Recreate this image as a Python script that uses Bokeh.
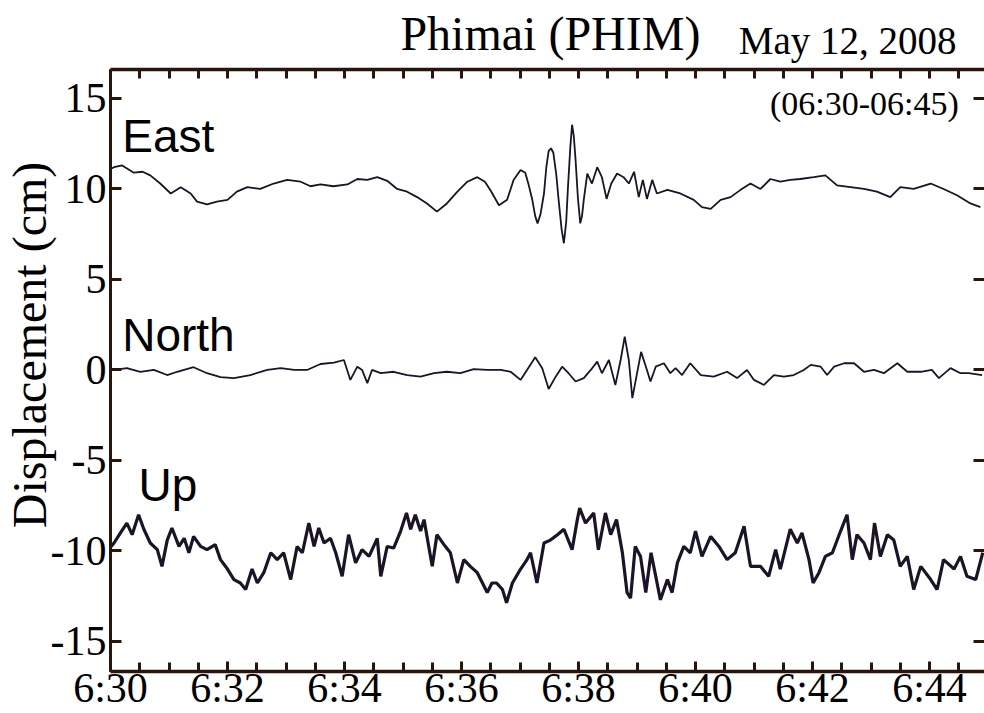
from bokeh.plotting import figure
from bokeh.models import Range1d, LinearAxis, FixedTicker, Label
from bokeh.embed import file_html
from bokeh.resources import INLINE

# ---- data (minutes after 06:30, displacement in cm) ----
east_t = [0.0, 0.06, 0.2, 0.4, 0.55, 0.68, 0.85, 1.03, 1.2, 1.37, 1.48, 1.65, 1.82, 2.0, 2.16, 2.34,
          2.56, 2.79, 3.02, 3.25, 3.42, 3.59, 3.81, 4.05, 4.22, 4.39, 4.56, 4.73, 4.9, 5.07, 5.24,
          5.41, 5.58, 5.75, 5.93, 6.1, 6.27, 6.4, 6.5, 6.64, 6.78, 6.89,
          7.01, 7.09, 7.15, 7.21, 7.26, 7.3, 7.35, 7.41, 7.45, 7.49, 7.53, 7.57, 7.62, 7.66, 7.71,
          7.75, 7.79, 7.82, 7.86, 7.89, 7.92, 7.95, 7.99, 8.03, 8.06, 8.09, 8.15,
          8.23, 8.32, 8.4, 8.48, 8.56, 8.66, 8.77, 8.86, 8.95, 9.03, 9.1, 9.17, 9.26, 9.34, 9.52,
          9.74, 9.97, 10.11, 10.26, 10.43, 10.6, 10.77, 10.94, 11.11, 11.28, 11.45, 11.62, 11.79,
          12.02, 12.22, 12.42, 12.65, 12.88, 13.1, 13.33, 13.5, 13.73, 14.02, 14.24, 14.47, 14.7, 14.87]
east_v = [11.1, 11.2, 11.3, 10.9, 10.95, 10.75, 10.3, 9.75, 10.1, 9.75, 9.3, 9.15, 9.3, 9.4, 9.85, 10.1,
          10.0, 10.3, 10.5, 10.4, 10.15, 10.25, 10.15, 10.25, 10.55, 10.5, 10.65, 10.45, 10.0, 9.85, 9.55,
          9.2, 8.75, 9.2, 9.85, 10.4, 10.65, 10.4, 9.9, 9.1, 9.4, 10.5,
          11.05, 10.9, 10.2, 9.4, 8.5, 8.1, 8.6, 9.75, 11.2, 12.1, 12.25, 12.0, 10.8, 9.4, 7.8,
          7.0, 8.2, 10.1, 12.3, 13.55, 12.9, 11.6, 9.5, 8.1, 8.5, 9.4, 10.85,
          10.3, 11.2, 10.65, 9.45, 10.3, 10.85, 10.65, 10.3, 10.95, 9.55, 10.5, 9.45, 10.5, 9.75, 9.95,
          9.75, 9.4, 9.0, 8.9, 9.4, 9.55, 9.95, 10.3, 10.0, 10.55, 10.4, 10.5, 10.55,
          10.65, 10.75, 10.2, 10.1, 10.0, 9.85, 9.55, 10.1, 10.0, 10.3, 10.0, 9.65, 9.2, 9.0]

north_t = [0.0, 0.06, 0.28, 0.51, 0.74, 0.97, 1.14, 1.42, 1.65, 1.88, 2.11, 2.39, 2.68, 2.91, 3.14,
           3.36, 3.59, 3.82, 3.99, 4.1, 4.22, 4.3, 4.39, 4.47, 4.62, 4.84, 5.07, 5.3, 5.53, 5.75,
           5.98, 6.21, 6.44, 6.67, 6.84, 7.01, 7.12, 7.26, 7.38, 7.49, 7.61, 7.72, 7.83, 7.95, 8.09,
           8.21, 8.32, 8.4, 8.52, 8.63, 8.72, 8.79, 8.86, 8.92, 8.99, 9.07, 9.17, 9.23, 9.32, 9.46,
           9.57, 9.66, 9.77, 9.91, 10.09, 10.31, 10.54, 10.71, 10.88, 11.0, 11.17, 11.34, 11.51,
           11.68, 11.85, 11.97, 12.14, 12.25, 12.37, 12.54, 12.71, 12.88, 13.05, 13.22, 13.45,
           13.62, 13.85, 14.04, 14.16, 14.36, 14.53, 14.67, 14.9]
north_v = [0.1, 0.0, 0.1, -0.1, 0.0, -0.28, -0.1, 0.15, -0.18, -0.4, -0.45, -0.28, 0.0, 0.1, 0.0,
           0.0, 0.33, 0.4, 0.55, -0.55, 0.18, 0.0, -0.73, 0.0, -0.18, -0.1, -0.28, -0.37, -0.18, -0.1,
           -0.18, 0.05, 0.0, 0.0, -0.1, -0.55, 0.0, 0.7, 0.1, -1.05, -0.37, 0.18, -0.18, -0.64, -0.45,
           0.0, 0.46, -0.18, 0.55, -0.83, 0.55, 1.84, 0.55, -1.56, -0.37, 1.0, 0.0, -0.64, 0.18, 0.37,
           -0.18, 0.1, -0.28, 0.37, -0.28, -0.37, -0.1, -0.45, 0.0, -0.55, -0.83, -0.28, -0.37,
           -0.28, 0.0, 0.28, 0.18, -0.28, 0.18, 0.37, 0.37, -0.1, 0.0, -0.18, 0.37,
           -0.1, -0.1, 0.0, -0.45, 0.1, -0.18, -0.18, -0.28]

up_t = [0.0, 0.06, 0.17, 0.28, 0.37, 0.48, 0.57, 0.68, 0.8, 0.88, 0.97, 1.05, 1.17, 1.26, 1.34, 1.42,
        1.54, 1.65, 1.79, 1.88, 2.0, 2.11, 2.22, 2.31, 2.42, 2.51, 2.62, 2.74, 2.85, 2.96, 3.08, 3.19,
        3.28, 3.39, 3.48, 3.56, 3.65, 3.76, 3.85, 3.96, 4.07, 4.19, 4.3, 4.42, 4.56, 4.62, 4.73, 4.84,
        4.96, 5.06, 5.13, 5.21, 5.3, 5.36, 5.44, 5.5, 5.58, 5.7, 5.81, 5.93, 6.04, 6.15, 6.27, 6.44,
        6.52, 6.6, 6.7, 6.77, 6.87, 7.01, 7.12,
        7.18, 7.29, 7.41, 7.52, 7.64, 7.75, 7.89, 7.98, 8.02, 8.12, 8.26, 8.34, 8.46, 8.55, 8.65,
        8.75, 8.83, 8.89, 8.97, 9.06, 9.15, 9.24, 9.32, 9.4, 9.52, 9.6, 9.69, 9.8, 9.91, 10.0, 10.11,
        10.26, 10.4, 10.54, 10.68, 10.83, 10.94, 11.11, 11.25, 11.37, 11.45, 11.62, 11.74, 11.82,
        11.94, 12.01, 12.11, 12.22, 12.34, 12.48, 12.59, 12.68, 12.76, 12.88, 12.99, 13.06, 13.16,
        13.28, 13.39, 13.5, 13.62, 13.73, 13.85, 14.02, 14.13, 14.24, 14.42, 14.53, 14.64, 14.79, 14.91]
up_v = [-9.8, -9.56, -9.0, -8.46, -9.1, -8.0, -8.8, -9.56, -9.93, -10.85, -9.4, -8.73, -9.75, -9.3,
        -10.1, -9.2, -9.75, -9.93, -9.65, -10.48, -11.0, -11.58, -11.77, -12.13, -11.0, -11.77, -11.2,
        -10.1, -10.48, -10.1, -11.58, -9.75, -10.1, -8.46, -9.75, -8.73, -9.56, -9.3, -10.1, -11.4,
        -9.1, -10.66, -9.93, -10.3, -9.3, -11.4, -9.75, -9.84, -8.9, -7.9, -8.8, -8.0, -8.9, -8.27,
        -9.75, -10.85, -9.1, -9.65, -10.1, -11.77, -10.48, -10.85, -11.2, -12.3, -11.77, -11.77,
        -12.13, -12.87, -11.77, -11.0, -10.48,
        -10.1, -11.77, -9.56, -9.4, -9.1, -8.8, -9.93, -8.27, -7.63, -8.46, -7.9, -9.93, -7.9, -9.1,
        -8.27, -10.1, -12.3, -12.6, -9.75, -10.3, -12.3, -10.1, -11.4, -12.7, -11.58, -12.3, -10.66,
        -9.75, -10.1, -8.9, -10.3, -9.2, -9.75, -10.48, -10.1, -8.63, -10.85, -10.85, -11.4, -9.93,
        -11.0, -8.8, -9.56, -9.0, -10.48, -11.77, -11.2, -10.3, -10.1, -8.9, -8.0, -10.48, -9.1,
        -9.56, -10.48, -8.46, -10.3, -9.1, -9.4, -10.85, -10.3, -12.13, -10.85, -11.58, -12.13,
        -10.48, -11.0, -10.3, -11.4, -11.58, -10.1]

x_tick_pos = [0, 2, 4, 6, 8, 10, 12, 14]
x_tick_labels = ["6:30", "6:32", "6:34", "6:36", "6:38", "6:40", "6:42", "6:44"]
x_minor_pos = [i * 0.5 for i in range(31)]
y_tick_pos = [-15, -10, -5, 0, 5, 10, 15]
y_tick_labels = ["-15", "-10", "-5", "0", "5", "10", "15"]

series_names = ["East", "North", "Up"]
title_text = "Phimai (PHIM)"
date_text = "May 12, 2008"
window_text = "(06:30-06:45)"
y_title = "Displacement (cm)"

# ---- styling ----
LINE = "#1b1326"
FRAME = "#2a150c"
SERIF = "Liberation Serif"
SANS = "Liberation Sans"

p = figure(width=984, height=713, x_range=Range1d(0, 14.94), y_range=Range1d(-16.66, 16.6),
           output_backend="svg", toolbar_location=None,
           min_border_left=110, min_border_top=69, min_border_right=0, min_border_bottom=41)
p.outline_line_color = None
p.xgrid.visible = False
p.ygrid.visible = False
p.background_fill_color = "white"
p.border_fill_color = "white"

p.line(east_t, east_v, line_color=LINE, line_width=1.8)
p.line(north_t, north_v, line_color=LINE, line_width=1.8)
p.line(up_t, up_v, line_color=LINE, line_width=3.2)

# bottom axis
bx = p.xaxis[0]
bx.ticker = FixedTicker(ticks=x_tick_pos, minor_ticks=x_minor_pos)
bx.major_label_overrides = {pos: lab for pos, lab in zip(x_tick_pos, x_tick_labels)}
bx.axis_line_color = FRAME
bx.axis_line_width = 3.5
bx.major_tick_in = 10
bx.major_tick_out = 0
bx.minor_tick_in = 9
bx.minor_tick_out = 0
bx.major_tick_line_color = FRAME
bx.minor_tick_line_color = FRAME
bx.major_tick_line_width = 3
bx.minor_tick_line_width = 3
bx.major_label_text_font = SERIF
bx.major_label_text_font_size = "42px"
bx.major_label_text_color = "black"
bx.major_label_standoff = -7

# left axis
ly = p.yaxis[0]
ly.ticker = FixedTicker(ticks=y_tick_pos)
ly.major_label_overrides = {pos: lab for pos, lab in zip(y_tick_pos, y_tick_labels)}
ly.axis_line_color = FRAME
ly.axis_line_width = 3
ly.major_tick_in = 11
ly.major_tick_out = 0
ly.minor_tick_line_color = None
ly.major_tick_line_color = FRAME
ly.major_tick_line_width = 3
ly.major_label_text_font = SERIF
ly.major_label_text_font_size = "42px"
ly.major_label_text_color = "black"
ly.major_label_standoff = 4

# outer left axis carrying the y title
ytitle_pos = [1.38]
ty = LinearAxis(ticker=FixedTicker(ticks=ytitle_pos),
                major_label_overrides={ytitle_pos[0]: y_title})
ty.axis_line_color = None
ty.major_tick_line_color = None
ty.minor_tick_line_color = None
ty.major_label_orientation = "vertical"
ty.major_label_text_font = SERIF
ty.major_label_text_font_size = "48px"
ty.major_label_text_color = "black"
ty.major_label_standoff = -15
p.add_layout(ty, "left")

# right axis: ticks only
ry = LinearAxis(ticker=FixedTicker(ticks=[], minor_ticks=y_tick_pos))
ry.axis_line_color = None
ry.major_tick_line_color = None
ry.minor_tick_in = 11
ry.minor_tick_out = 0
ry.minor_tick_line_color = FRAME
ry.minor_tick_line_width = 3
p.add_layout(ry, "right")

# top axis: ticks + date text
date_pos = [12.6]
tx = LinearAxis(ticker=FixedTicker(ticks=date_pos, minor_ticks=x_minor_pos),
                major_label_overrides={date_pos[0]: date_text})
tx.axis_line_color = FRAME
tx.axis_line_width = 3.5
tx.major_tick_line_color = None
tx.minor_tick_in = 9
tx.minor_tick_out = 0
tx.minor_tick_line_color = FRAME
tx.minor_tick_line_width = 3
tx.major_label_text_font = SERIF
tx.major_label_text_font_size = "39px"
tx.major_label_text_color = "black"
tx.major_label_standoff = 2
p.add_layout(tx, "above")

# outer top axis carrying the main title
title_pos = [7.52]
tt = LinearAxis(ticker=FixedTicker(ticks=title_pos),
                major_label_overrides={title_pos[0]: title_text})
tt.axis_line_color = None
tt.major_tick_line_color = None
tt.minor_tick_line_color = None
tt.major_label_text_font = SERIF
tt.major_label_text_font_size = "48px"
tt.major_label_text_color = "black"
tt.major_label_standoff = -50
p.add_layout(tt, "above")

# ---- in-plot texts ----
p.add_layout(Label(x=14.5, y=14.7, text=window_text, text_font=SERIF, text_font_size="34px",
                   text_color="black", text_align="right", text_baseline="middle"))

label_x = [0.2, 0.2, 0.48]
label_y = [12.95, 1.95, -6.35]
for name, lx, lyy in zip(series_names, label_x, label_y):
    p.add_layout(Label(x=lx, y=lyy, text=name, text_font=SANS, text_font_size="46px",
                       text_color="black", text_align="left", text_baseline="alphabetic"))

open("out.html", "w").write(file_html(p, INLINE))
